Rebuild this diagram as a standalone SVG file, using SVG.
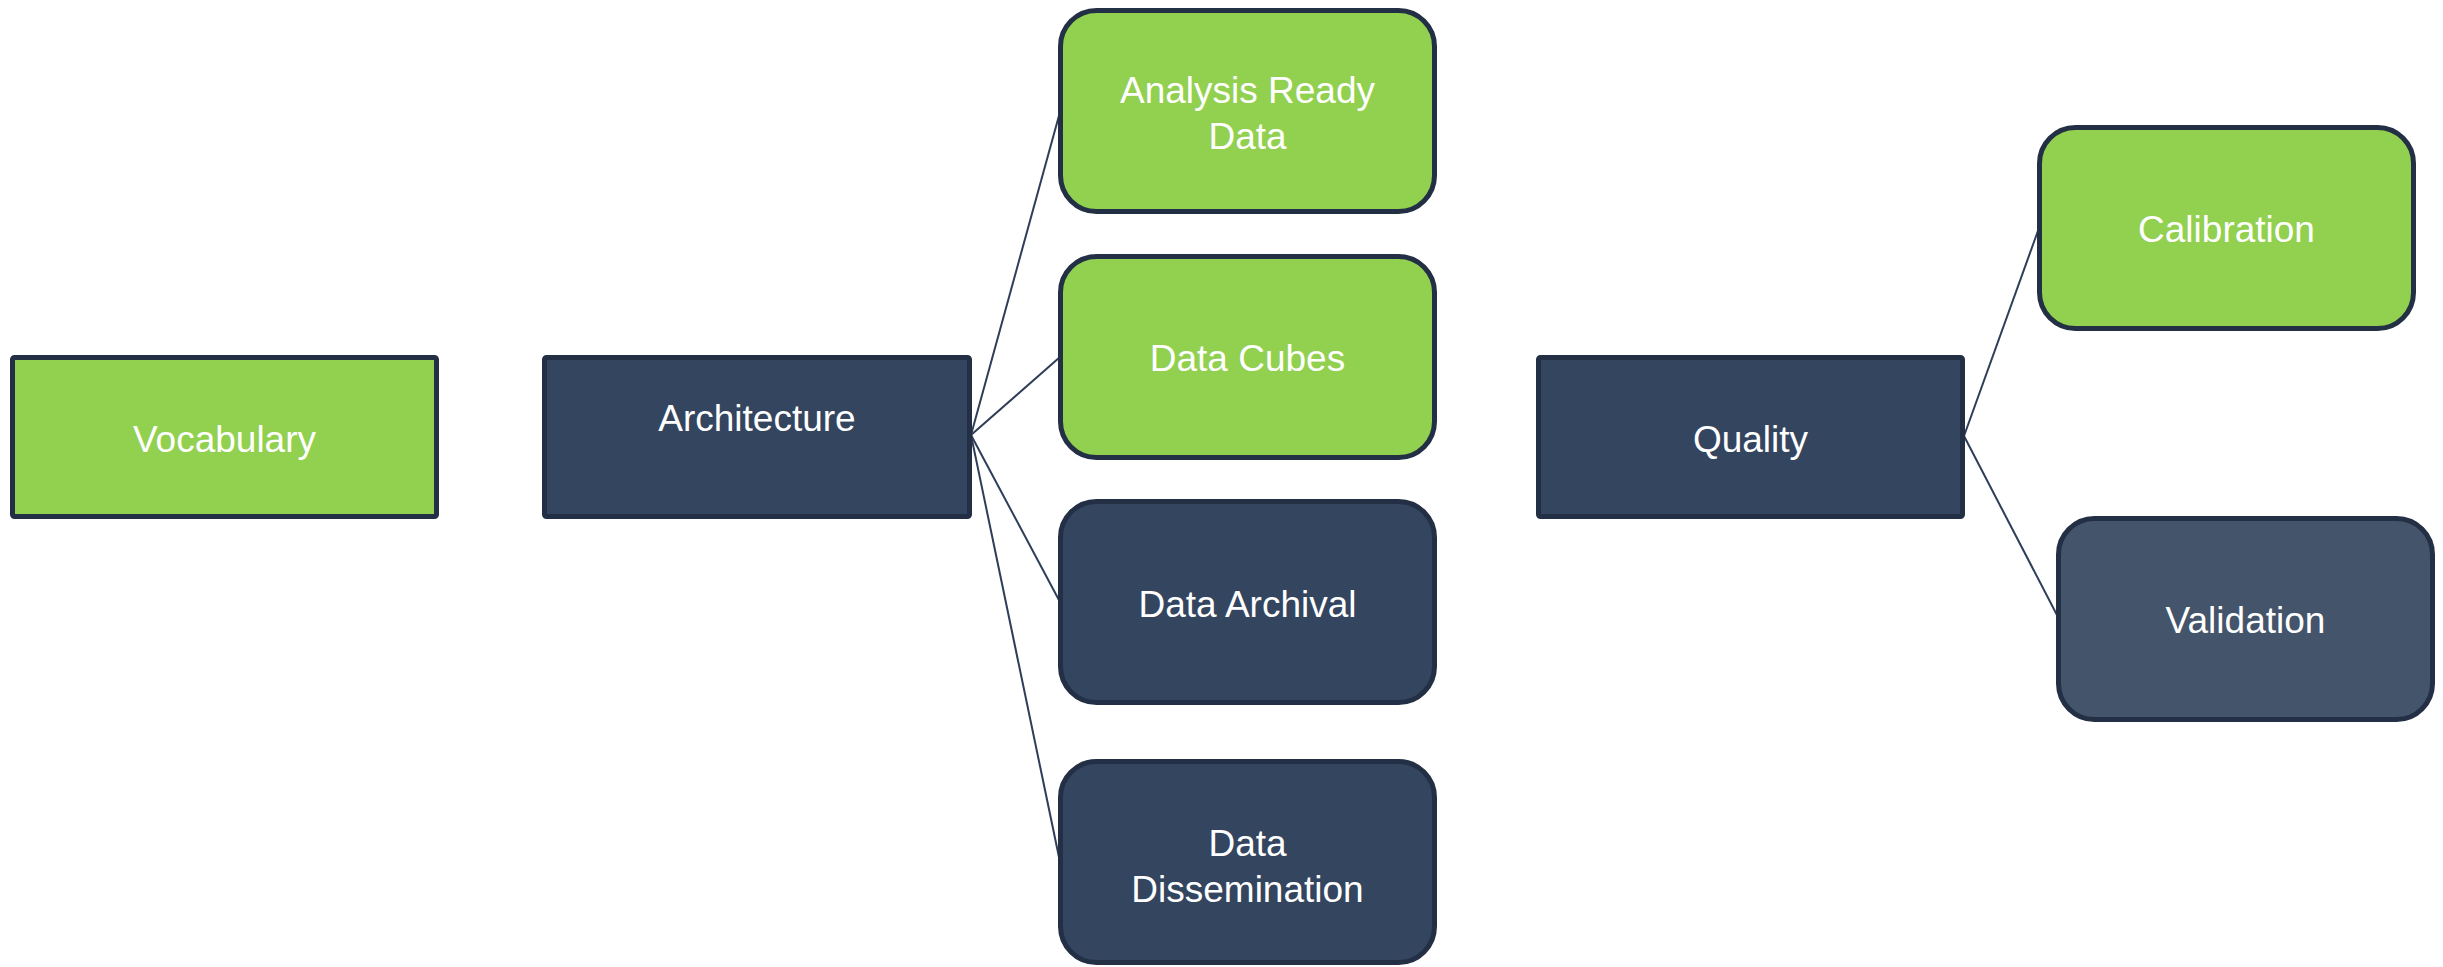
<svg xmlns="http://www.w3.org/2000/svg" width="2443" height="967" viewBox="0 0 2443 967">
  <style>
    .green { fill: #92D050; stroke: #232F45; stroke-width: 5; }
    .navy { fill: #344560; stroke: #232F45; stroke-width: 5; }
    .slate { fill: #44546A; stroke: #232F45; stroke-width: 5; }
    .lbl { font-family: "Liberation Sans", Arial, sans-serif; font-size: 37px; fill: #FFFFFF; text-anchor: middle; }
    .conn { stroke: #2E3D58; stroke-width: 2; fill: none; }
  </style>
  <rect width="2443" height="967" fill="#FFFFFF"/>
  <g id="connectors">
    <line class="conn" x1="971" y1="435" x2="1060" y2="112"/>
    <line class="conn" x1="971" y1="435" x2="1060" y2="357"/>
    <line class="conn" x1="971" y1="435" x2="1060" y2="602"/>
    <line class="conn" x1="971" y1="435" x2="1060" y2="862"/>
    <line class="conn" x1="1964" y1="436" x2="2039" y2="228"/>
    <line class="conn" x1="1964" y1="436" x2="2058" y2="617"/>
  </g>
  <g id="vocabulary">
    <rect class="green" x="12.5" y="357.5" width="424" height="159" rx="2"/>
    <text class="lbl" x="224.5" y="452">Vocabulary</text>
  </g>
  <g id="architecture">
    <rect class="navy" x="544.5" y="357.5" width="425" height="159" rx="2"/>
    <text class="lbl" x="757" y="431">Architecture</text>
  </g>
  <g id="analysis-ready-data">
    <rect class="green" x="1060.5" y="10.5" width="374" height="201" rx="36"/>
    <text class="lbl" x="1247.5" y="103">Analysis Ready</text>
    <text class="lbl" x="1247.5" y="149">Data</text>
  </g>
  <g id="data-cubes">
    <rect class="green" x="1060.5" y="256.5" width="374" height="201" rx="36"/>
    <text class="lbl" x="1247.5" y="371">Data Cubes</text>
  </g>
  <g id="data-archival">
    <rect class="navy" x="1060.5" y="501.5" width="374" height="201" rx="36"/>
    <text class="lbl" x="1247.5" y="617">Data Archival</text>
  </g>
  <g id="data-dissemination">
    <rect class="navy" x="1060.5" y="761.5" width="374" height="201" rx="36"/>
    <text class="lbl" x="1247.5" y="856">Data</text>
    <text class="lbl" x="1247.5" y="902">Dissemination</text>
  </g>
  <g id="quality">
    <rect class="navy" x="1538.5" y="357.5" width="424" height="159" rx="2"/>
    <text class="lbl" x="1750.5" y="452">Quality</text>
  </g>
  <g id="calibration">
    <rect class="green" x="2039.5" y="127.5" width="374" height="201" rx="36"/>
    <text class="lbl" x="2226.5" y="242">Calibration</text>
  </g>
  <g id="validation">
    <rect class="slate" x="2058.5" y="518.5" width="374" height="201" rx="36"/>
    <text class="lbl" x="2245.5" y="633">Validation</text>
  </g>
</svg>
